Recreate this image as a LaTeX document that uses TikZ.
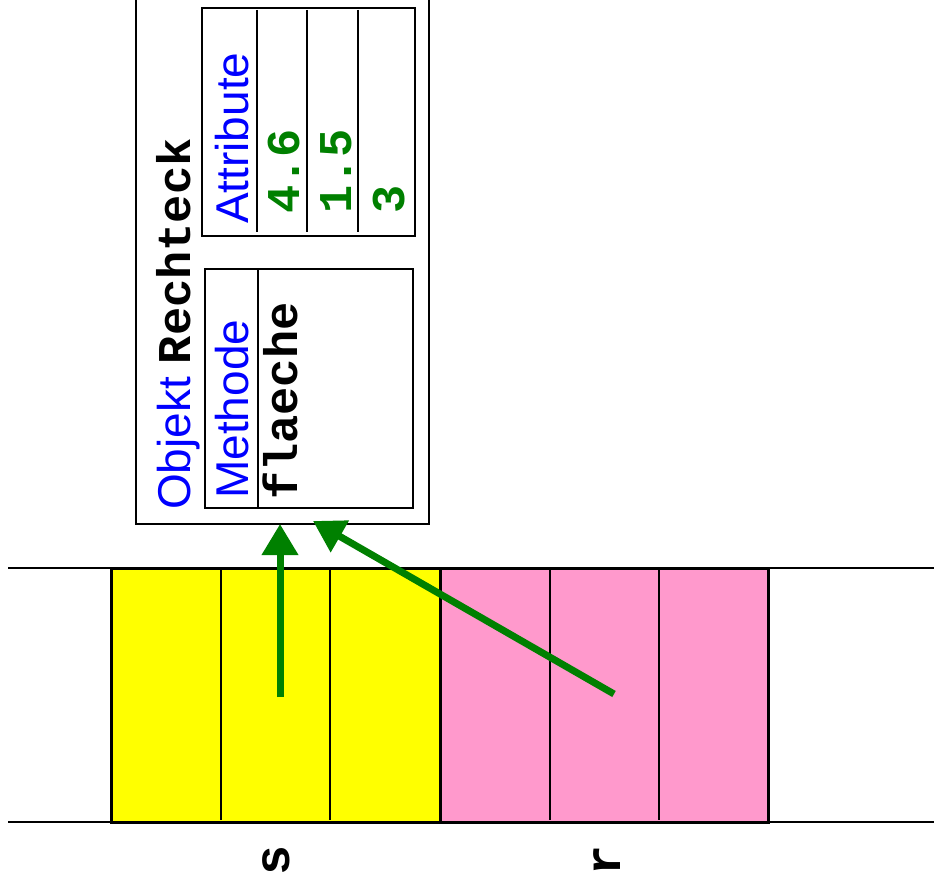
\documentclass[tikz,border=0pt]{standalone}
\usepackage{fontspec}
\setmainfont{Liberation Sans}
\newfontfamily\cour{Liberation Mono}
\usetikzlibrary{arrows.meta}
\definecolor{dgreen}{RGB}{0,128,0}
\definecolor{pinkcell}{RGB}{255,153,204}
\definecolor{yellowcell}{RGB}{255,255,0}
\tikzset{
  frameline/.style={line width=2.2pt},
  cellrect/.style={line width=3pt},
  divline/.style={line width=1.6pt},
  boxline/.style={line width=2.4pt},
  ptr/.style={dgreen,line width=7pt,-{Triangle[length=31pt,width=35pt]}},
  txt/.style={rotate=90,anchor=base west,inner sep=0pt,font=\fontsize{46}{46}\selectfont},
  mono/.style={font=\fontsize{47}{47}\selectfont\cour\bfseries},
  lbl/.style={rotate=90,inner sep=0pt,font=\fontsize{50}{50}\selectfont\cour\bfseries},
}
\begin{document}
\begin{tikzpicture}[x=1pt,y=-1pt]
\useasboundingbox (0,0) rectangle (934,891);
% memory strip
\draw[frameline] (8,568) -- (934,568);
\draw[frameline] (8,822) -- (934,822);
\draw[cellrect,fill=yellowcell] (111,568) rectangle (440,822);
\draw[cellrect,fill=pinkcell] (440,568) rectangle (768,822);
\foreach \x in {221,330,550,659} \draw[divline] (\x,570) -- (\x,820);
\node[lbl] (s) at (276,860) {s};
\node[lbl] (r) at (607,860) {r};
% object box
\draw[frameline] (136,-5) rectangle (429,524);
\node[txt] (title) at (190,510) {\color{blue}Objekt \color{black}\fontsize{47}{47}\selectfont\cour\bfseries Rechteck};
% Attribute box
\draw[boxline] (202,8) rectangle (415,236);
\foreach \x in {257,307,358} \draw[divline] (\x,10) -- (\x,232);
\node[txt] (attr) at (248,224) {\color{blue}Attribute};
\node[txt,mono,text=dgreen] (v1) at (299,214) {4.6};
\node[txt,mono,text=dgreen] (v2) at (351,214) {1.5};
\node[txt,mono,text=dgreen] (v3) at (404,214) {3};
% Methode box
\draw[boxline] (205,269) rectangle (413,508);
\draw[divline] (258,269) -- (258,508);
\node[txt] (meth) at (248,499) {\color{blue}Methode};
\node[txt,mono] (fl) at (297,500) {flaeche};
% pointers
\coordinate (sstart) at (280,697);
\coordinate (send) at (280,524);
\coordinate (rstart) at (614,694);
\coordinate (rend) at (313,521);
\draw[ptr] (sstart) -- (send);
\draw[ptr] (rstart) -- (rend);
\end{tikzpicture}
\end{document}
